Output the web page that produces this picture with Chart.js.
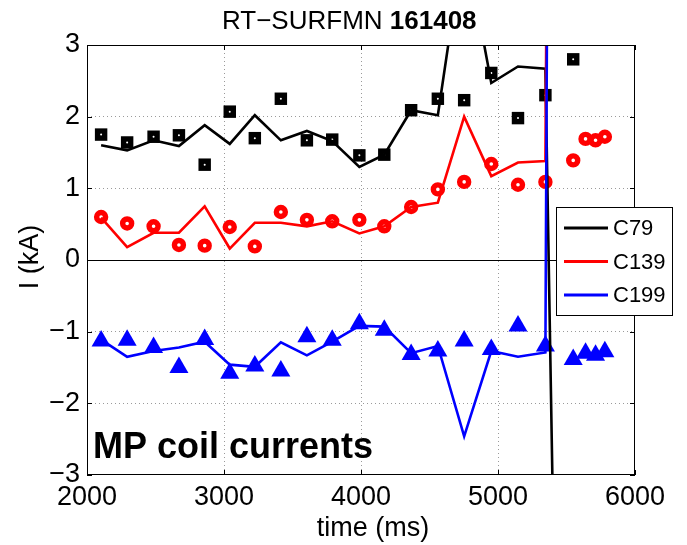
<!DOCTYPE html>
<html>
<head>
<meta charset="utf-8">
<script src="https://cdn.jsdelivr.net/npm/chart.js@4.4.1/dist/chart.umd.min.js"></script>
<style>
  html, body { margin: 0; padding: 0; background: #fff; }
</style>
</head>
<body>
<canvas id="myChart" width="687" height="545"></canvas>
<script>
// sample times (ms)
const markerTimes = [2103, 2293, 2486, 2671, 2859, 3042, 3225, 3415, 3605, 3790, 3988,
  4170, 4366, 4561, 4753, 4951, 5146, 5346, 5549, 5639, 5712, 5780];
const lineTimes = [2103, 2293, 2486, 2671, 2859, 3042, 3225, 3415, 3605, 3790, 3988,
  4170, 4366, 4561, 4753, 4951, 5146, 5346, 5549];

// RT-SURFMN computed currents (kA)
const c79Line = [1.60, 1.53, 1.67, 1.59, 1.88, 1.62, 2.02, 1.67, 1.80, 1.66, 1.30,
  1.47, 2.09, 2.02, 4.5, 2.47, 2.70, 2.67, -20];
const c139Line = [0.59, 0.18, 0.38, 0.38, 0.75, 0.16, 0.52, 0.52, 0.47, 0.54, 0.37,
  0.47, 0.74, 0.80, 2.00, 1.17, 1.36, 1.38, 60];
const c199Line = [-1.11, -1.35, -1.27, -1.22, -1.14, -1.46, -1.49, -1.15, -1.33, -1.14, -0.92,
  -0.93, -1.30, -1.20, -2.46, -1.27, -1.35, -1.29, 80];

// measured coil currents (kA)
const c79Meas = [1.75, 1.64, 1.72, 1.74, 1.33, 2.07, 1.70, 2.25, 1.67, 1.68, 1.46,
  1.47, 2.09, 2.25, 2.23, 2.61, 1.98, 2.30, 2.80, null, null, null];
const c139Meas = [0.60, 0.51, 0.47, 0.21, 0.20, 0.46, 0.19, 0.67, 0.56, 0.54, 0.56,
  0.47, 0.74, 0.985, 1.09, 1.34, 1.05, 1.09, 1.39, 1.69, 1.67, 1.72];
const c199Meas = [-1.13, -1.12, -1.22, -1.50, -1.11, -1.58, -1.48, -1.55, -1.07, -1.12, -0.89,
  -0.98, -1.32, -1.27, -1.13, -1.25, -0.92, -1.20, -1.39, -1.30, -1.33, -1.28];

const xTicks = [2000, 3000, 4000, 5000, 6000];
const yTicks = [-3, -2, -1, 0, 1, 2, 3];

const FONT = "'Liberation Sans', Arial, Helvetica, sans-serif";

const pts = (xs, ys) => xs.map((x, i) => ({ x: x, y: ys[i] }));

const lineSet = (label, xs, ys, color, order) => ({
  type: 'line', label, data: pts(xs, ys), borderColor: color, backgroundColor: color,
  borderWidth: 2.6, pointRadius: 0, tension: 0, clip: 0, order, spanGaps: false
});

const decor = {
  id: 'decor',
  beforeDatasetsDraw(chart) {
    const { ctx, chartArea: a, scales: { y } } = chart;
    ctx.save();
    const y0 = Math.round(y.getPixelForValue(0)) + 0.5;
    ctx.strokeStyle = '#000';
    ctx.lineWidth = 1;
    ctx.beginPath();
    ctx.moveTo(a.left, y0);
    ctx.lineTo(a.right, y0);
    ctx.stroke();
    ctx.restore();
  },
  afterDatasetsDraw(chart) {
    const { ctx, chartArea: a, scales: { x, y } } = chart;
    ctx.save();
    ctx.strokeStyle = '#000';
    ctx.lineWidth = 1;
    ctx.strokeRect(a.left + 0.5, a.top + 0.5, a.right - a.left - 1, a.bottom - a.top - 1);
    ctx.beginPath();
    xTicks.forEach(v => {
      const px = Math.round(x.getPixelForValue(v)) + 0.5;
      ctx.moveTo(px, a.bottom); ctx.lineTo(px, a.bottom - 5);
      ctx.moveTo(px, a.top); ctx.lineTo(px, a.top + 5);
    });
    yTicks.forEach(v => {
      const py = Math.round(y.getPixelForValue(v)) + 0.5;
      ctx.moveTo(a.left, py); ctx.lineTo(a.left + 5, py);
      ctx.moveTo(a.right, py); ctx.lineTo(a.right - 5, py);
    });
    ctx.stroke();
    ctx.restore();
  },
  afterDraw(chart) {
    const { ctx } = chart;
    ctx.save();
    ctx.fillStyle = '#000';
    ctx.textBaseline = 'alphabetic';

    // title with bold shot number
    ctx.font = '26px ' + FONT;
    const t1 = 'RT\u2212SURFMN ';
    ctx.fillText(t1, 222, 28.5);
    const w1 = ctx.measureText(t1).width;
    ctx.font = 'bold 26px ' + FONT;
    ctx.fillText('161408', 222 + w1, 28.5);

    // axis titles
    ctx.font = '27px ' + FONT;
    ctx.textAlign = 'center';
    ctx.fillText('time (ms)', 373, 536);
    ctx.save();
    ctx.translate(38, 257);
    ctx.rotate(-Math.PI / 2);
    ctx.fillText('I (kA)', 0, 0);
    ctx.restore();

    // annotation
    ctx.textAlign = 'left';
    ctx.font = 'bold 36px ' + FONT;
    ctx.fillText('MP coil currents', 93, 458);

    // legend
    const lx = 556, ly = 207, lw = 116, lh = 108;
    ctx.fillStyle = '#fff';
    ctx.fillRect(lx, ly, lw, lh);
    ctx.strokeStyle = '#000';
    ctx.lineWidth = 1;
    ctx.strokeRect(lx + 0.5, ly + 0.5, lw, lh);
    const items = chart.data.datasets.filter(d => d.type === 'line')
      .sort((p, q) => q.order - p.order);
    ctx.font = '22px ' + FONT;
    ctx.textBaseline = 'middle';
    items.forEach((d, i) => {
      const yy = 228 + i * 33.5;
      ctx.strokeStyle = d.borderColor;
      ctx.lineWidth = 3;
      ctx.beginPath();
      ctx.moveTo(564, yy); ctx.lineTo(608, yy);
      ctx.stroke();
      ctx.fillStyle = '#000';
      ctx.fillText(d.label, 613, yy + 1);
    });
    ctx.restore();
  }
};

const ctx = document.getElementById('myChart').getContext('2d');
new Chart(ctx, {
  data: {
    datasets: [
      lineSet('C79', lineTimes, c79Line, '#000000', 3),
      lineSet('C139', lineTimes, c139Line, '#ff0000', 2),
      lineSet('C199', lineTimes, c199Line, '#0000ff', 1),
      {
        type: 'scatter', label: 'C79 meas', data: pts(markerTimes, c79Meas),
        pointStyle: 'rect', pointRadius: 8.8, backgroundColor: '#000', borderColor: '#000',
        borderWidth: 0, showLine: false, order: 7
      },
      {
        type: 'scatter', label: 'C79 meas center', data: pts(markerTimes, c79Meas),
        pointStyle: 'circle', pointRadius: 1, backgroundColor: '#fff', borderWidth: 0,
        showLine: false, order: 6
      },
      {
        type: 'scatter', label: 'C139 meas', data: pts(markerTimes, c139Meas),
        pointStyle: 'circle', pointRadius: 4.5, backgroundColor: '#fff', borderColor: '#ff0000',
        borderWidth: 5.4, showLine: false, order: 5
      },
      {
        type: 'scatter', label: 'C199 meas', data: pts(markerTimes, c199Meas),
        pointStyle: 'triangle', pointRadius: 11, backgroundColor: '#0000ff', borderColor: '#0000ff',
        borderWidth: 0, showLine: false, order: 4
      }
    ]
  },
  options: {
    responsive: false,
    animation: false,
    devicePixelRatio: 1,
    layout: { padding: { top: 45, right: 52, left: 0, bottom: 0 } },
    plugins: {
      legend: { display: false },
      title: { display: false },
      tooltip: { enabled: false }
    },
    scales: {
      x: {
        type: 'linear', min: 2000, max: 6000,
        afterFit(s) { s.height = 70; },
        afterBuildTicks(s) { s.ticks = xTicks.map(v => ({ value: v })); },
        ticks: {
          color: '#000', font: { family: FONT, size: 27 }, padding: 6, maxRotation: 0,
          callback: v => String(v)
        },
        grid: {
          drawTicks: false,
          color: c => (c.tick && (c.tick.value === 2000 || c.tick.value === 6000)) ? 'rgba(0,0,0,0)' : '#9a9a9a',
          lineWidth: 1
        },
        border: { display: false, dash: [1, 3] }
      },
      y: {
        type: 'linear', min: -3, max: 3,
        afterFit(s) { s.width = 87; },
        afterBuildTicks(s) { s.ticks = yTicks.map(v => ({ value: v })); },
        ticks: {
          color: '#000', font: { family: FONT, size: 27 }, padding: 7,
          callback: v => (v < 0 ? '\u2212' + Math.abs(v) : String(v))
        },
        grid: {
          drawTicks: false,
          color: c => (c.tick && Math.abs(c.tick.value) === 3 || (c.tick && c.tick.value === 0)) ? 'rgba(0,0,0,0)' : '#9a9a9a',
          lineWidth: 1
        },
        border: { display: false, dash: [1, 3] }
      }
    }
  },
  plugins: [decor]
});
</script>
</body>
</html>
